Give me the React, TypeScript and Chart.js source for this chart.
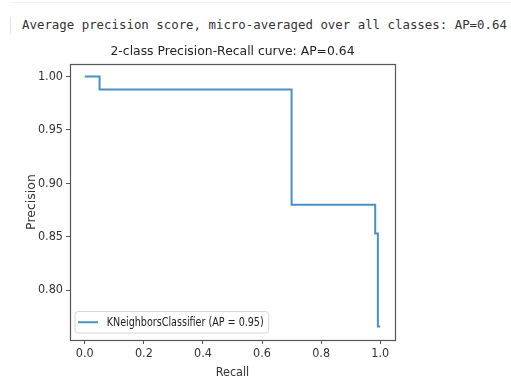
import React, { useEffect, useRef } from "react";
import { Chart, registerables } from "chart.js";

Chart.register(...registerables);

const headerText = "Average precision score, micro-averaged over all classes: AP=0.64";
const chartTitle = "2-class Precision-Recall curve: AP=0.64";
const xLabel = "Recall";
const yLabel = "Precision";
const seriesLabel = "KNeighborsClassifier (AP = 0.95)";

const recall = [0, 0.05, 0.7, 0.983, 0.992, 1.0];
const precision = [1.0, 0.988, 0.88, 0.853, 0.766, 0.766];

const xTicks = [0, 0.2, 0.4, 0.6, 0.8, 1.0];
const yTicks = [0.8, 0.85, 0.9, 0.95, 1.0];
const xRange = [-0.05, 1.05];
const yRange = [0.7533, 1.0118];

const NARROW = '"Liberation Sans Narrow", "DejaVu Sans Condensed", "Liberation Sans", sans-serif';
const DEJAVU = '"DejaVu Sans", sans-serif';
const LINE_COLOR = "#4a90c8";
const AXIS_COLOR = "#555555";
const TEXT_COLOR = "#333333";

const framePlugin = {
  id: "frame",
  afterDatasetsDraw(chart: any) {
    const { ctx, chartArea: a } = chart;
    ctx.save();
    ctx.strokeStyle = AXIS_COLOR;
    ctx.lineWidth = 1.2;
    ctx.strokeRect(Math.round(a.left) + 0.5, Math.round(a.top) + 0.5, Math.round(a.right - a.left), Math.round(a.bottom - a.top));
    ctx.restore();
  },
};

const titlePlugin = {
  id: "mplTitle",
  afterDraw(chart: any) {
    const { ctx, chartArea: a } = chart;
    ctx.save();
    ctx.font = `12.4px ${DEJAVU}`;
    ctx.fillStyle = "#222222";
    ctx.textAlign = "center";
    ctx.textBaseline = "middle";
    ctx.fillText(chartTitle, (a.left + a.right) / 2, a.top - 12, 244);
    ctx.restore();
  },
};

const legendPlugin = {
  id: "mplLegend",
  afterDraw(chart: any) {
    const { ctx, chartArea: a } = chart;
    const ds = chart.data.datasets[0];
    ctx.save();
    ctx.font = `13px ${NARROW}`;
    const tw = Math.min(ctx.measureText(ds.label).width, 157);
    const bx = a.left + 5;
    const bh = 21.5;
    const by = a.bottom - 7 - bh;
    const textX = bx + 31.7;
    const bw = textX - bx + tw + 5;
    const r = 3;
    ctx.beginPath();
    ctx.moveTo(bx + r, by);
    ctx.lineTo(bx + bw - r, by);
    ctx.arcTo(bx + bw, by, bx + bw, by + r, r);
    ctx.lineTo(bx + bw, by + bh - r);
    ctx.arcTo(bx + bw, by + bh, bx + bw - r, by + bh, r);
    ctx.lineTo(bx + r, by + bh);
    ctx.arcTo(bx, by + bh, bx, by + bh - r, r);
    ctx.lineTo(bx, by + r);
    ctx.arcTo(bx, by, bx + r, by, r);
    ctx.closePath();
    ctx.fillStyle = "rgba(255,255,255,0.85)";
    ctx.fill();
    ctx.strokeStyle = "#d6d6d6";
    ctx.lineWidth = 1;
    ctx.stroke();
    const cy = by + bh / 2;
    ctx.strokeStyle = ds.borderColor;
    ctx.lineWidth = 2;
    ctx.beginPath();
    ctx.moveTo(bx + 3, cy);
    ctx.lineTo(bx + 23, cy);
    ctx.stroke();
    ctx.fillStyle = "#222222";
    ctx.textBaseline = "middle";
    ctx.textAlign = "left";
    ctx.fillText(ds.label, textX, cy + 0.5, 157);
    ctx.restore();
  },
};

export default function App() {
  const ref = useRef<HTMLCanvasElement | null>(null);

  useEffect(() => {
    if (!ref.current) return;
    const chart = new Chart(ref.current, {
      type: "line",
      data: {
        datasets: [
          {
            label: seriesLabel,
            data: recall.map((x, i) => ({ x, y: precision[i] })),
            stepped: "before",
            borderColor: LINE_COLOR,
            borderWidth: 2,
            pointRadius: 0,
            fill: false,
          },
        ],
      },
      options: {
        responsive: false,
        animation: false,
        events: [],
        layout: { padding: { left: 0, top: 64, right: 116, bottom: 0 } },
        plugins: {
          legend: { display: false },
          title: { display: false },
          tooltip: { enabled: false },
        },
        scales: {
          x: {
            type: "linear",
            min: xRange[0],
            max: xRange[1],
            afterBuildTicks: (s: any) => {
              s.ticks = xTicks.map((v) => ({ value: v }));
            },
            afterFit: (s: any) => {
              s.height = 40;
            },
            border: { display: false },
            grid: { drawOnChartArea: false, drawTicks: true, tickLength: 4, color: AXIS_COLOR, lineWidth: 1 },
            ticks: {
              autoSkip: false,
              maxRotation: 0,
              padding: 2,
              color: TEXT_COLOR,
              font: { family: NARROW, size: 12.5 },
              callback: (v: any) => Number(v).toFixed(1),
            },
            title: {
              display: true,
              text: xLabel,
              color: TEXT_COLOR,
              font: { family: NARROW, size: 12.5 },
              padding: { top: 1, bottom: 0 },
            },
          },
          y: {
            type: "linear",
            min: yRange[0],
            max: yRange[1],
            afterBuildTicks: (s: any) => {
              s.ticks = yTicks.map((v) => ({ value: v }));
            },
            afterFit: (s: any) => {
              s.width = 70;
            },
            border: { display: false },
            grid: { drawOnChartArea: false, drawTicks: true, tickLength: 4, color: AXIS_COLOR, lineWidth: 1 },
            ticks: {
              autoSkip: false,
              padding: 3,
              color: TEXT_COLOR,
              font: { family: NARROW, size: 12.5 },
              callback: (v: any) => Number(v).toFixed(2),
            },
            title: {
              display: true,
              text: yLabel,
              color: TEXT_COLOR,
              font: { family: DEJAVU, size: 12.5 },
              padding: { top: 24, bottom: 0 },
            },
          },
        },
      },
      plugins: [framePlugin, titlePlugin, legendPlugin],
    } as any);
    return () => chart.destroy();
  }, []);

  return (
    <div style={{ position: "absolute", left: 0, top: 0, width: 511, height: 380, background: "#ffffff", overflow: "hidden" }}>
      <div style={{ position: "absolute", left: 10, right: 0, top: 2, height: 1, background: "#f2f2f2" }} />
      <div style={{ position: "absolute", left: 10, top: 17, width: 1, height: 17, background: "#e2e2e2" }} />
      <div
        style={{
          position: "absolute",
          left: 22,
          top: 17,
          lineHeight: "16px",
          fontFamily: '"DejaVu Sans Mono", monospace',
          fontSize: "12.4px",
          color: "#333333",
          whiteSpace: "nowrap",
        }}
      >
        {headerText}
      </div>
      <canvas ref={ref} width={511} height={380} style={{ position: "absolute", left: 0, top: 0 }} />
    </div>
  );
}
